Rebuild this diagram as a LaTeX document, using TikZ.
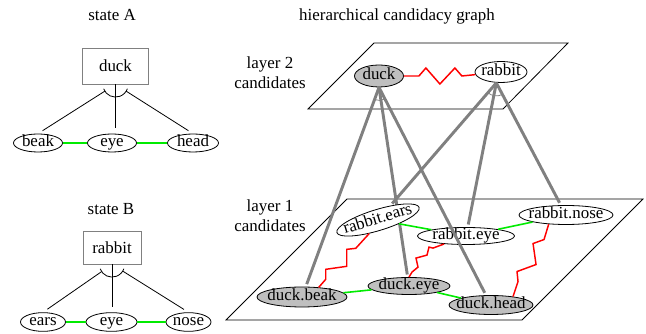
\documentclass[tikz,border=0pt]{standalone}
\usepackage{fontspec}
\setmainfont{Liberation Serif}
\usetikzlibrary{shapes.geometric}

\definecolor{samegreen}{RGB}{0,235,0}

\begin{document}
\begin{tikzpicture}[
  x=0.75pt, y=-0.75pt,
  font=\fontsize{12.7}{15}\selectfont,
  caption/.style={align=center, inner sep=1pt},
  concept/.style={draw=gray, line width=0.6pt, inner sep=0pt},
  part/.style={draw, ellipse, line width=0.6pt, fill=white, inner sep=-10pt, text height=1.5ex, text depth=0.3ex, minimum height=13.5pt},
  cand/.style={part, fill=lightgray},
  stem/.style={line width=0.6pt, shorten >=4pt},
  andarc/.style={line width=0.6pt},
  same/.style={draw=samegreen, line width=1.2pt},
  clash/.style={draw=red, line width=1.1pt},
  link/.style={draw=gray, line width=2.2pt, shorten >=2pt},
  linkarc/.style={draw=gray, line width=0.6pt},
  plane/.style={draw, line width=0.6pt}
]
\useasboundingbox (0,0) rectangle (646,334);

% state A
\node[caption] (titleA) at (112,15) {state A};
\node[concept, minimum width=49.5pt, minimum height=27pt] (aDuck) at (115.5,66) {duck};
\node[part, minimum width=36.75pt] (aBeak) at (38,143) {beak};
\node[part, minimum width=36.75pt] (aEye) at (112,143) {eye};
\node[part, minimum width=38.25pt] (aHead) at (193,143) {head};
\draw[stem, shorten <=9.5pt] (aDuck.south) -- (aBeak.north);
\draw[stem] (aDuck.south) -- (aDuck.south |- aEye.north);
\draw[stem, shorten <=9.5pt] (aDuck.south) -- (aHead.north);
\draw[andarc] (aDuck.south) ++(200:9.5pt) arc[start angle=200, end angle=340, radius=9.5pt];
\draw[same] (aBeak) -- (aEye);
\draw[same] (aEye) -- (aHead);

% state B
\node[caption] (titleB) at (111,209) {state B};
\node[concept, minimum width=43.5pt, minimum height=24.75pt] (bRabbit) at (112,247.5) {rabbit};
\node[part, minimum width=33.75pt, minimum height=14pt] (bEars) at (43,322) {ears};
\node[part, minimum width=38.25pt, minimum height=14pt] (bEye) at (111.5,322) {eye};
\node[part, minimum width=33.75pt, minimum height=14pt] (bNose) at (188.5,322) {nose};
\draw[stem, shorten <=9.5pt] (bRabbit.south) -- (bEars.north);
\draw[stem] (bRabbit.south) -- (bRabbit.south |- bEye.north);
\draw[stem, shorten <=9.5pt] (bRabbit.south) -- (bNose.north);
\draw[andarc] (bRabbit.south) ++(200:9.5pt) arc[start angle=200, end angle=340, radius=9.5pt];
\draw[same] (bEars) -- (bEye);
\draw[same] (bEye) -- (bNose);

% candidacy graph
\node[caption] (titleG) at (397,16) {hierarchical candidacy graph};
\node[caption] (layerTwo) at (270,73) {layer 2\\candidates};
\node[caption] (layerOne) at (270,216) {layer 1\\candidates};
\draw[plane] (374,43) -- (568,43) -- (503,109) -- (308,109) -- cycle;
\draw[plane] (347,199) -- (643,199) -- (522,320) -- (226,320) -- cycle;

\node[cand, minimum width=36.75pt, minimum height=16.5pt] (cDuck) at (379,76) {duck};
\node[part, minimum width=39pt, minimum height=15.75pt] (cRabbit) at (501,72) {rabbit};

\node[cand, minimum width=67.5pt, minimum height=15pt] (duckBeak) at (302,297) {duck.beak};
\node[cand, minimum width=61.5pt, minimum height=12.75pt] (duckEye) at (409,286) {duck.eye};
\node[cand, minimum width=63pt, minimum height=14.25pt] (duckHead) at (491,305) {duck.head};
\node[part, minimum width=72.75pt, minimum height=12.75pt] (rabbitEye) at (466,236) {rabbit.eye};
\node[part, minimum width=70.5pt, minimum height=14.25pt] (rabbitNose) at (566,215) {rabbit.nose};

\draw[link] (cDuck.south) -- (duckEye);
\node[part, rotate=17, minimum width=64.5pt, minimum height=15.75pt] (rabbitEars) at (378,220) {rabbit.ears};

\draw[link] (cDuck.south) -- (duckBeak);
\draw[link] (cDuck.south) -- (duckHead);
\draw[linkarc] (cDuck.south) ++(250:9.75pt) arc[start angle=250, end angle=296, radius=9.75pt];
\draw[link] ([xshift=-3.5pt]cRabbit.south) -- (rabbitEars);
\draw[link] ([xshift=-3.5pt]cRabbit.south) -- (rabbitEye);
\draw[link] ([xshift=-3.5pt]cRabbit.south) -- (rabbitNose);
\draw[linkarc] ([xshift=-3.5pt]cRabbit.south) ++(227:9.75pt) arc[start angle=227, end angle=300, radius=9.75pt];

\draw[same] (rabbitEars) -- (rabbitEye);
\draw[same] (rabbitEye) -- (rabbitNose);
\draw[same] (duckBeak) -- (duckEye);
\draw[same] (duckEye) -- (duckHead);

\draw[clash] (cDuck.east) -- ++(15,0) -- ++(7,-8) -- ++(14,16) -- ++(15,-16) -- ++(7,8) -- (cRabbit);
\draw[clash] (duckBeak.30) -- ++(7,-8) -- ++(0,-10) -- ++(21,-3) -- ++(0,-17) -- ++(9,-1) -- (rabbitEars.220);
\draw[clash] (duckEye.north) -- ++(3,-5) -- ++(6,-5) -- ++(-2,-9) -- ++(11,-3) -- ++(2,-8) -- ++(4,1) -- (rabbitEye.200);
\draw[clash] (duckHead.21) -- ++(5,-15) -- ++(-1,-10) -- ++(19,-7) -- ++(-3,-21) -- ++(11,-4) -- (rabbitNose.208);
\end{tikzpicture}
\end{document}
